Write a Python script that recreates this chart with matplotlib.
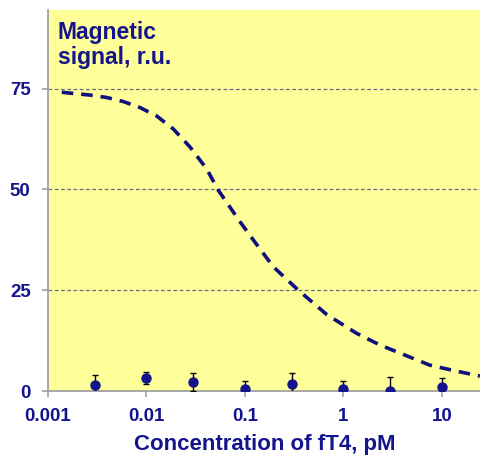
import numpy as np
import matplotlib
matplotlib.use("Agg")
from matplotlib import pyplot as plt

# measured points (concentration, pM) with error bars
conc = [0.003, 0.01, 0.03, 0.1, 0.3, 1, 3, 10]
signal = [1.5, 3.2, 2.2, 0.6, 1.8, 0.6, 0.0, 1.1]
err = [2.5, 1.4, 2.2, 1.8, 2.6, 1.8, 3.4, 2.1]

# dashed reference curve
curve_x = [0.00138, 0.00181, 0.00267, 0.00394, 0.00581, 0.00859, 0.0127, 0.0187,
           0.0277, 0.0408, 0.0536, 0.0889, 0.117, 0.194, 0.348, 0.674, 1.36,
           2.35, 4.21, 7.55, 13.6, 24.3]
curve_y = [74.1, 73.8, 73.4, 72.8, 71.8, 70.3, 68.2, 65.0,
           60.5, 55.1, 49.8, 42.0, 38.0, 30.8, 25.0, 19.0, 14.3,
           11.4, 8.9, 6.4, 5.0, 3.7]

yticks = [0, 25, 50, 75]
xticks = [0.001, 0.01, 0.1, 1, 10]
xticklabels = ['0.001', '0.01', '0.1', '1', '10']

navy = '#14148c'
plt.rcParams['font.family'] = ['Liberation Sans', 'DejaVu Sans']

fig = plt.figure(figsize=(4.81, 4.57), dpi=100)
ax = fig.add_axes([48/481, 66/457, 433/481, 381/457])
ax.set_facecolor('#ffff99')

ax.set_xscale('log')
ax.set_xlim(0.001, 24.9)
ax.set_ylim(0, 94.5)

for yv in yticks[1:]:
    ax.axhline(yv, color='#6a6a8a', lw=0.9, ls=(0, (3, 2)), zorder=1)

ax.plot(curve_x, curve_y, color='#10107e', lw=2.6, ls=(0, (3.2, 2.2)), zorder=3)

ax.errorbar(conc, signal, yerr=err, fmt='o', color=navy, ms=6.5,
            ecolor='black', elinewidth=1.0, capsize=2.5, capthick=1.0, zorder=4,
            clip_on=True)

for side in ['top', 'right']:
    ax.spines[side].set_visible(False)
for side in ['left', 'bottom']:
    ax.spines[side].set_color('#a0a0a0')
    ax.spines[side].set_linewidth(1.3)

ax.set_yticks(yticks)
ax.set_xticks(xticks)
ax.set_xticklabels(xticklabels)
ax.xaxis.set_minor_locator(matplotlib.ticker.NullLocator())
ax.tick_params(axis='both', colors='#a0a0a0', labelcolor=navy, length=4.5, width=1.2,
               labelsize=13.5, pad=8)
for lab in ax.get_xticklabels() + ax.get_yticklabels():
    lab.set_fontweight('bold')

ax.set_xlabel('Concentration of fT4, pM', fontsize=16, fontweight='bold', color=navy, labelpad=6)
ax.text(0.022, 0.97, 'Magnetic\nsignal, r.u.', transform=ax.transAxes, fontsize=16.5,
        fontweight='bold', color=navy, va='top', ha='left', linespacing=1.1)

fig.savefig('out.png', dpi=100)
